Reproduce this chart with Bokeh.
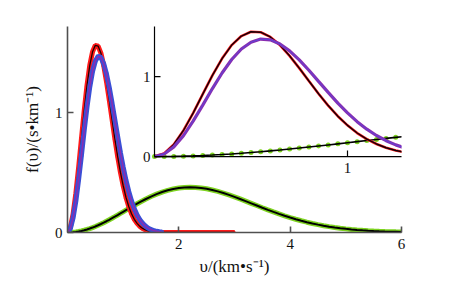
from bokeh.plotting import figure
from bokeh.models import Range1d, FixedTicker
from bokeh.core.properties import value
from bokeh.embed import file_html
from bokeh.resources import INLINE

# ---- data ----
v_red = [0.00, 0.05, 0.10, 0.15, 0.20, 0.25, 0.30, 0.35, 0.40, 0.45, 0.50, 0.55,
         0.60, 0.65, 0.70, 0.75, 0.80, 0.85, 0.90, 0.95, 1.00, 1.05, 1.10, 1.15,
         1.20, 1.25, 1.30, 1.35, 1.40, 1.45, 1.50, 1.55, 1.60, 1.70, 3.00]
f_red = [0.000, 0.039, 0.152, 0.326, 0.543, 0.780, 1.015, 1.225, 1.393, 1.506, 1.560, 1.554,
         1.495, 1.393, 1.259, 1.105, 0.944, 0.785, 0.637, 0.504, 0.390, 0.294, 0.217, 0.157,
         0.110, 0.076, 0.051, 0.034, 0.022, 0.014, 0.009, 0.005, 0.003, 0.000, 0.000]

v_blue = [0.00, 0.05, 0.10, 0.15, 0.20, 0.25, 0.30, 0.35, 0.40, 0.45, 0.50, 0.55,
          0.60, 0.65, 0.70, 0.75, 0.80, 0.85, 0.90, 0.95, 1.00, 1.05, 1.10, 1.15,
          1.20, 1.25, 1.30, 1.35, 1.40, 1.45, 1.50, 1.55, 1.60, 1.65, 1.70]
f_blue = [0.000, 0.031, 0.121, 0.262, 0.442, 0.643, 0.850, 1.044, 1.213, 1.344, 1.429, 1.468,
          1.459, 1.407, 1.321, 1.209, 1.079, 0.940, 0.802, 0.668, 0.546, 0.436, 0.342, 0.263,
          0.198, 0.146, 0.106, 0.076, 0.053, 0.036, 0.025, 0.016, 0.010, 0.006, 0.004]

v_green = [0.00, 0.05, 0.10, 0.15, 0.20, 0.25, 0.30, 0.35, 0.40, 0.45, 0.50, 0.55, 0.60,
           0.65, 0.70, 0.75, 0.80, 0.85, 0.90, 0.95, 1.00, 1.05, 1.10, 1.15, 1.20, 1.25, 1.30,
           1.4, 1.5, 1.6, 1.7, 1.8, 1.9, 2.0, 2.1, 2.2, 2.3, 2.4, 2.5, 2.6, 2.7, 2.8, 2.9,
           3.0, 3.1, 3.2, 3.3, 3.4, 3.5, 3.6, 3.7, 3.8, 3.9, 4.0, 4.1, 4.2, 4.3, 4.4, 4.5,
           4.6, 4.7, 4.8, 4.9, 5.0, 5.1, 5.2, 5.3, 5.4, 5.5, 5.6, 5.7, 5.8, 5.9, 6.0]
f_green = [0.0000, 0.0005, 0.0021, 0.0048, 0.0084, 0.0131, 0.0187, 0.0253, 0.0328, 0.0412,
           0.0503, 0.0602, 0.0708, 0.0821, 0.0939, 0.1061, 0.1189, 0.1319, 0.1452, 0.1587,
           0.1724, 0.1861, 0.1997, 0.2133, 0.2267, 0.2398, 0.2526,
           0.2771, 0.2996, 0.3197, 0.3372, 0.3516, 0.3629, 0.3710, 0.3759, 0.3774, 0.3758,
           0.3714, 0.3643, 0.3545, 0.3428, 0.3289, 0.3137, 0.2970, 0.2796, 0.2616, 0.2433,
           0.2250, 0.2066, 0.1888, 0.1715, 0.1549, 0.1391, 0.1244, 0.1105, 0.0977, 0.0859,
           0.0752, 0.0655, 0.0567, 0.0488, 0.0419, 0.0357, 0.0303, 0.0255, 0.0214, 0.0179,
           0.0150, 0.0124, 0.0102, 0.0083, 0.0068, 0.0056, 0.0045]

main_xticks = [2, 4, 6]
main_yticks = [0, 1]
inset_xticks = [1]
inset_yticks = [0, 1]
inset_xmax = 1.285
inset_ymax = 1.675

x_label = "υ/(km•s⁻¹)"
y_label = "f(υ)/(s•km⁻¹)"

FONT = "Liberation Serif"
RED = "#ff1a1a"
BLUE = "#3a4fd6"
PURPLE = "#8a2cb0"
GREEN = "#7ed321"
AX = "#505050"

p = figure(width=450, height=284, output_backend="svg", toolbar_location=None,
           x_range=Range1d(0, 6), y_range=Range1d(0, 1.717),
           min_border_left=67, min_border_right=49, min_border_top=26, min_border_bottom=52)
p.xgrid.visible = False
p.ygrid.visible = False
p.outline_line_color = None
p.xaxis.ticker = FixedTicker(ticks=main_xticks)
p.yaxis.ticker = FixedTicker(ticks=main_yticks)
for ax in [p.xaxis[0], p.yaxis[0]]:
    ax.axis_line_color = AX
    ax.axis_line_width = 1.6
    ax.major_tick_line_color = AX
    ax.major_tick_line_width = 1.6
    ax.major_tick_in = 6
    ax.major_tick_out = 0
    ax.minor_tick_line_color = None
    ax.major_label_text_font = FONT
    ax.major_label_text_font_size = "15px"
    ax.major_label_text_color = "#111111"
    ax.axis_label_text_font = FONT
    ax.axis_label_text_font_size = "17px"
    ax.axis_label_text_font_style = "normal"
    ax.axis_label_text_color = "#111111"
p.xaxis[0].major_label_standoff = 6
p.yaxis[0].major_label_standoff = 5
p.xaxis[0].axis_label = x_label
p.yaxis[0].axis_label = y_label
p.xaxis[0].axis_label_standoff = 5
p.yaxis[0].axis_label_standoff = 10

# main plot curves
p.line(v_green, f_green, line_color=GREEN, line_width=5)
p.scatter(v_green, f_green, marker="circle", size=3.5, fill_color=GREEN, line_color=None)
p.line(v_green, f_green, line_color="black", line_width=2)

p.line(v_red, f_red, line_color=RED, line_width=5)
p.scatter(v_red, f_red, marker="triangle", size=4.5, fill_color=RED, line_color=None)
p.line(v_red, f_red, line_color="#220000", line_width=1.3)

p.line(v_blue, f_blue, line_color=BLUE, line_width=5)
p.scatter(v_blue, f_blue, marker="square", size=3.5, fill_color=BLUE, line_color=None)
p.line(v_blue, f_blue, line_color=PURPLE, line_width=1.5)

# inset: a sub-coordinate system inside the main frame
q = p.subplot(x_source=Range1d(0, inset_xmax), y_source=Range1d(0, inset_ymax),
              x_target=Range1d(1.563, 6.018), y_target=Range1d(0.633, 1.75))

q.scatter(v_green, f_green, marker="circle", size=5, fill_color=GREEN, line_color=None)
q.line(v_green, f_green, line_color="black", line_width=1.6)

q.line(v_red, f_red, line_color=RED, line_width=2.6)
q.line(v_red, f_red, line_color="#100008", line_width=1.4)

q.line(v_blue, f_blue, line_color=PURPLE, line_width=3.2)
q.line(v_blue, f_blue, line_color="#5a48d8", line_width=1.0)

# inset axes
q.segment(x0=[0, 0], y0=[0, 0], x1=[inset_xmax, 0], y1=[0, inset_ymax],
          line_color="black", line_width=1.2)
q.segment(x0=inset_xticks, y0=[0] * len(inset_xticks), x1=inset_xticks,
          y1=[0.075] * len(inset_xticks), line_color="black", line_width=1.2)
q.segment(x0=[0] * len(inset_yticks), y0=inset_yticks, x1=[0.031] * len(inset_yticks),
          y1=inset_yticks, line_color="black", line_width=1.2)
q.text(x=inset_xticks, y=[0] * len(inset_xticks), text=[str(t) for t in inset_xticks],
       text_font=value(FONT), text_font_size="15px", text_color="#111111",
       text_align="center", text_baseline="top", y_offset=6)
q.text(x=[0] * len(inset_yticks), y=inset_yticks, text=[str(t) for t in inset_yticks],
       text_font=value(FONT), text_font_size="15px", text_color="#111111",
       text_align="right", text_baseline="middle", x_offset=-4)

open("out.html", "w").write(file_html(p, INLINE))
